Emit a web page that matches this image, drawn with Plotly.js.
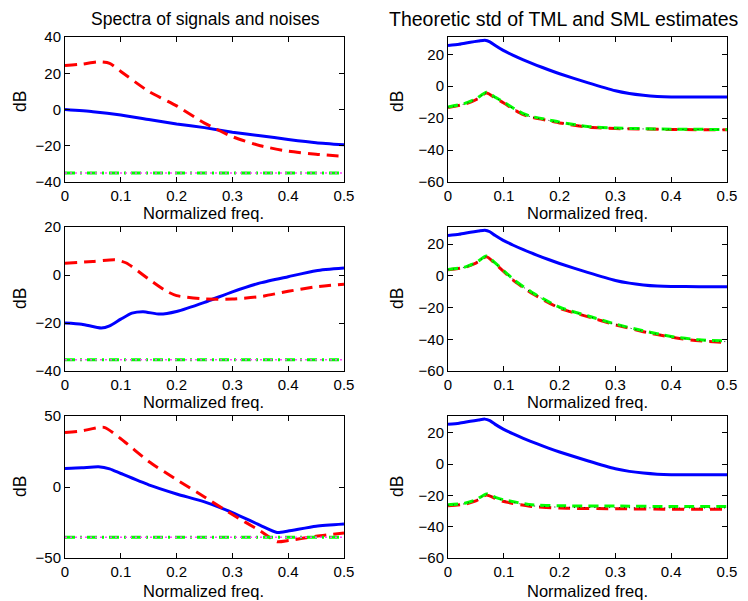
<!DOCTYPE html>
<html><head><meta charset="utf-8">
<script src="https://cdn.plot.ly/plotly-3.0.1.min.js"></script>
<style>body{margin:0;padding:0;background:#fff}#c{width:748px;height:601px}</style>
</head><body><div id="c"></div>
<script>
// ---- Data ----
// Left column: spectra
var s1BlueX = [0,0.05,0.1,0.15,0.2,0.25,0.3,0.35,0.4,0.45,0.5];
var s1BlueY = [0,-1.2,-3,-5.5,-8,-10,-12.5,-14.5,-16.5,-18.3,-19.5];
var s1RedX  = [0,0.03,0.06,0.08,0.1,0.15,0.2,0.25,0.3,0.35,0.4,0.45,0.5];
var s1RedY  = [24.3,25,26.3,25.5,21,10,2,-7.5,-15,-20,-23,-24.7,-25.8];

var s2BlueX = [0,0.03,0.065,0.08,0.1,0.12,0.14,0.17,0.2,0.25,0.3,0.35,0.4,0.45,0.5];
var s2BlueY = [-20,-20.5,-22.1,-21.2,-18.4,-15.9,-15.3,-16.3,-15.2,-11.4,-7,-3.3,-0.7,1.8,2.9];
var s2RedX  = [0,0.05,0.09,0.11,0.15,0.18,0.2,0.25,0.3,0.35,0.4,0.45,0.5];
var s2RedY  = [4.9,5.6,6.3,5,-1.7,-6.5,-8.6,-10,-10,-9,-6.8,-4.9,-3.8];

var s3BlueX = [0,0.03,0.06,0.08,0.1,0.15,0.2,0.25,0.3,0.35,0.38,0.4,0.45,0.5];
var s3BlueY = [13.1,13.5,14.2,12.8,9.5,1.5,-4.9,-10.5,-18,-27,-32,-31,-27.6,-26];
var s3RedX  = [0,0.03,0.07,0.1,0.15,0.2,0.25,0.3,0.35,0.38,0.4,0.45,0.5];
var s3RedY  = [38.4,39.5,42,34,18,5.2,-7,-19.4,-31,-38.5,-37.7,-34.7,-32.3];

var noiseX = [0,0.5];
var noise1Y = [-35,-35];
var noise2Y = [-35.3,-35.3];
var noise3Y = [-35.3,-35.3];

// Right column: theoretic std
var stdBlueX = [0,0.02,0.04,0.055,0.066,0.075,0.084,0.099,0.117,0.135,0.159,0.18,0.2,0.25,0.3,0.325,0.35,0.375,0.4,0.45,0.5];
var stdBlueY = [25.5,26.2,27.5,28.3,28.8,27.8,25.6,22.4,19.3,16.5,13.1,10.3,7.8,2.2,-2.9,-4.6,-5.7,-6.4,-6.7,-6.8,-6.8];

var t1X = [0,0.03,0.05,0.069,0.085,0.1,0.12,0.135,0.15,0.183,0.2,0.25,0.3,0.4,0.5];
var t1Red   = [-13.3,-11.3,-8.5,-4.3,-7.5,-10.5,-15,-17.8,-19.5,-21.8,-23,-25.6,-26.5,-27.1,-27.3];
var t1Green = [-13,-10.8,-8,-3.8,-7,-10,-14.4,-17.2,-19,-21.3,-22.5,-25.2,-26.2,-26.9,-27.1];
var t1Black = [-13.2,-11.1,-8.3,-4.1,-7.3,-10.3,-14.7,-17.5,-19.3,-21.6,-22.8,-25.4,-26.4,-27,-27.2];

var t2X = [0,0.03,0.05,0.069,0.085,0.1,0.12,0.15,0.2,0.25,0.3,0.35,0.4,0.45,0.5];
var t2Red   = [3.8,5.3,8,12,7.5,2.7,-3.6,-10.9,-20.4,-25.7,-30.9,-35.2,-38.7,-41,-42];
var t2Green = [4,5.5,8.3,12.5,8,3.2,-3,-10.3,-19.8,-25.2,-30.4,-34.7,-38.2,-40.3,-41];
var t2Black = [3.9,5.4,8.1,12.2,7.7,3,-3.3,-10.6,-20.1,-25.4,-30.6,-35,-38.5,-40.7,-41.5];

var t3X = [0,0.03,0.05,0.069,0.085,0.1,0.15,0.2,0.3,0.4,0.5];
var t3Red   = [-26.6,-25.6,-23.5,-19.7,-22,-23.9,-27,-28.1,-28.5,-28.8,-28.8];
var t3Green = [-26,-25,-22.8,-19,-21.2,-22.8,-26,-26.6,-26.8,-27.1,-27];
var t3Black = [-26.3,-25.3,-23.1,-19.3,-21.6,-23.3,-26.6,-27.5,-27.8,-28,-28];

var xTicks = [0,0.1,0.2,0.3,0.4,0.5];
var xTickText = ['0','0.1','0.2','0.3','0.4','0.5'];

// ---- Styles ----
var FONT = 'Liberation Sans, Arial, Helvetica, sans-serif';
var BLUE = '#0000ff', RED = '#ff0000', GREEN = '#00ff00', MAG = '#ff44ff';
function ln(x, y, color, width, dash, xa, ya, shape) {
  return {x:x, y:y, xaxis:xa, yaxis:ya, type:'scatter', mode:'lines',
    line:{color:color, width:width, dash:dash, shape:shape||'spline', smoothing:0.6},
    hoverinfo:'skip', showlegend:false};
}
var traces = [];
// row1 left
traces.push(ln(s1BlueX, s1BlueY, BLUE, 3, 'solid', 'x', 'y'));
traces.push(ln(s1RedX, s1RedY, RED, 3, '12px,7px', 'x', 'y'));
traces.push(ln(noiseX, noise1Y, GREEN, 3, '10px,5px,2px,5px', 'x', 'y', 'linear'));
traces.push(ln(noiseX, noise1Y, MAG, 1.5, '2px,3px', 'x', 'y', 'linear'));
// row1 right
traces.push(ln(stdBlueX, stdBlueY, BLUE, 3, 'solid', 'x2', 'y2'));
traces.push(ln(t1X, t1Red, RED, 3, '12px,7px', 'x2', 'y2'));
traces.push(ln(t1X, t1Green, GREEN, 3, '10px,6px', 'x2', 'y2'));
traces.push(ln(t1X, t1Black, '#222', 1, '1px,4px', 'x2', 'y2'));
// row2 left
traces.push(ln(s2BlueX, s2BlueY, BLUE, 3, 'solid', 'x3', 'y3'));
traces.push(ln(s2RedX, s2RedY, RED, 3, '12px,7px', 'x3', 'y3'));
traces.push(ln(noiseX, noise2Y, GREEN, 3, '10px,5px,2px,5px', 'x3', 'y3', 'linear'));
traces.push(ln(noiseX, noise2Y, MAG, 1.5, '2px,3px', 'x3', 'y3', 'linear'));
// row2 right
traces.push(ln(stdBlueX, stdBlueY, BLUE, 3, 'solid', 'x4', 'y4'));
traces.push(ln(t2X, t2Red, RED, 3, '12px,7px', 'x4', 'y4'));
traces.push(ln(t2X, t2Green, GREEN, 3, '10px,6px', 'x4', 'y4'));
traces.push(ln(t2X, t2Black, '#222', 1, '1px,4px', 'x4', 'y4'));
// row3 left
traces.push(ln(s3BlueX, s3BlueY, BLUE, 3, 'solid', 'x5', 'y5'));
traces.push(ln(s3RedX, s3RedY, RED, 3, '12px,7px', 'x5', 'y5'));
traces.push(ln(noiseX, noise3Y, GREEN, 3, '10px,5px,2px,5px', 'x5', 'y5', 'linear'));
traces.push(ln(noiseX, noise3Y, MAG, 1.5, '2px,3px', 'x5', 'y5', 'linear'));
// row3 right
traces.push(ln(stdBlueX, stdBlueY, BLUE, 3, 'solid', 'x6', 'y6'));
traces.push(ln(t3X, t3Red, RED, 3, '12px,7px', 'x6', 'y6'));
traces.push(ln(t3X, t3Green, GREEN, 3, '10px,6px', 'x6', 'y6'));
traces.push(ln(t3X, t3Black, '#222', 1, '1px,4px', 'x6', 'y6'));

var W = 748, H = 601;
var colX = [[65/W, 344/W], [448/W, 727/W]];
var rowY = [[1-182/H, 1-37/H], [1-371/H, 1-227/H], [1-558/H, 1-416/H]];
var yRanges = [[-40,40],[-60,30.8],[-40,20],[-60,30.8],[-50,50],[-60,30.8]];
var yDticks = [20,20,20,20,50,20];

function xax(dom, anchor) {
  return {domain:dom, anchor:anchor, range:[0,0.5], tickvals:xTicks, ticktext:xTickText,
    showline:true, linecolor:'#000', linewidth:1, mirror:'ticks', ticks:'inside', ticklen:5,
    tickcolor:'#000', showgrid:false, zeroline:false, tickfont:{family:FONT, size:15, color:'#000'}, fixedrange:true};
}
function yax(dom, anchor, range, dt) {
  return {domain:dom, anchor:anchor, range:range, dtick:dt, tick0:0,
    showline:true, linecolor:'#000', linewidth:1, mirror:'ticks', ticks:'inside', ticklen:5,
    tickcolor:'#000', showgrid:false, zeroline:false, tickfont:{family:FONT, size:15, color:'#000'},
    tickformat:'d', fixedrange:true};
}
var layout = {width:W, height:H, margin:{l:0,r:0,t:0,b:0}, paper_bgcolor:'#fff', plot_bgcolor:'#fff',
  showlegend:false, font:{family:FONT, color:'#000'}, annotations:[]};
var names = ['', '2', '3', '4', '5', '6'];
for (var i = 0; i < 6; i++) {
  var r = Math.floor(i/2), c = i % 2;
  layout['xaxis' + names[i]] = xax(colX[c], 'y' + names[i]);
  layout['yaxis' + names[i]] = yax(rowY[r], 'x' + names[i], yRanges[i], yDticks[i]);
}
function ann(text, xpx, ypx, size, rot) {
  return {text:text, x:xpx/W, y:1-ypx/H, xref:'paper', yref:'paper', showarrow:false,
    xanchor:'center', yanchor:'middle', textangle:rot||0, borderpad:0,
    font:{family:FONT, size:size, color:'#000'}};
}
layout.annotations.push(ann('Spectra of signals and noises', 205, 19, 17.5));
layout.annotations.push(ann('Theoretic std of TML and SML estimates', 564, 19, 19.5));
var xtY = [213, 402, 591];
var dbY = [102, 299, 487];
for (var r2 = 0; r2 < 3; r2++) {
  layout.annotations.push(ann('Normalized freq.', 204, xtY[r2], 16.5));
  layout.annotations.push(ann('Normalized freq.', 587, xtY[r2], 16.5));
  layout.annotations.push(ann('dB', 20, dbY[r2], 17.5, -90));
  layout.annotations.push(ann('dB', 397, dbY[r2], 17.5, -90));
}
Plotly.newPlot('c', traces, layout, {staticPlot:true});
</script></body></html>
